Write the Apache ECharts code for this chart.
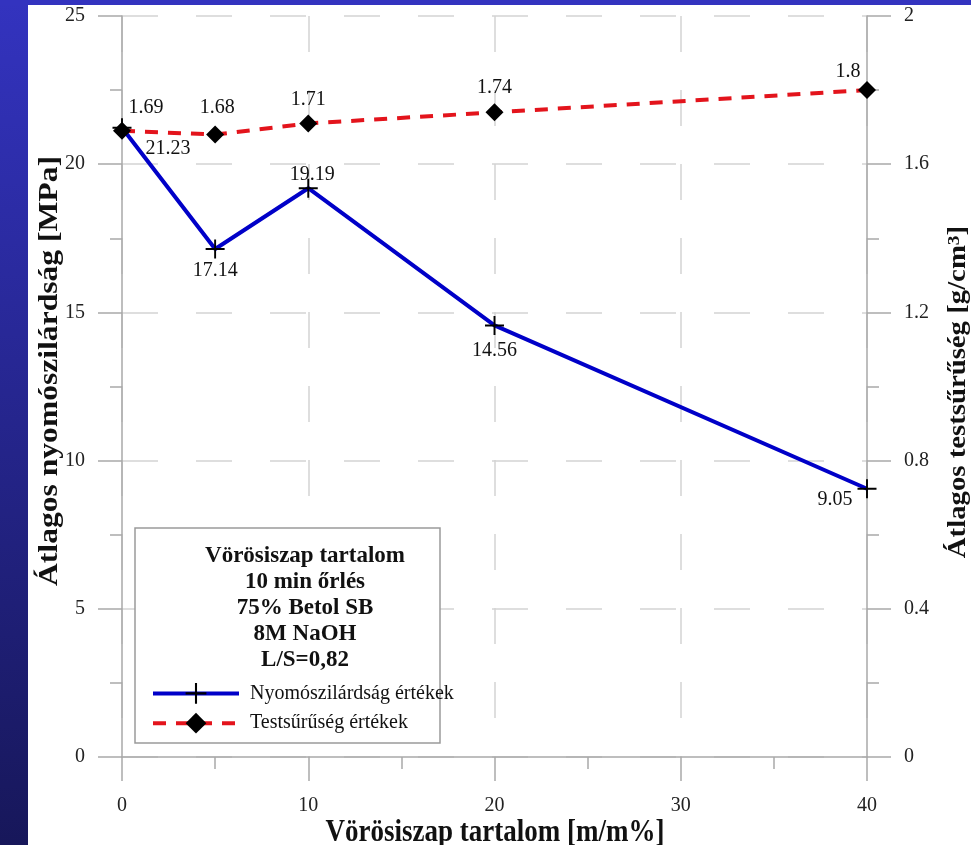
<!DOCTYPE html>
<html>
<head>
<meta charset="utf-8">
<title>Vörösiszap tartalom</title>
<script src="https://cdn.jsdelivr.net/npm/echarts@6/dist/echarts.min.js"></script>
<style>
  html, body { margin: 0; padding: 0; background: #fff; }
  #chart { width: 971px; height: 845px; }
</style>
</head>
<body>
<div id="chart"></div>
<script>
// data
const redMudContent = [0, 5, 10, 20, 40]
const strengthValues = [21.23, 17.14, 19.19, 14.56, 9.05]
const densityValues = [1.69, 1.68, 1.71, 1.74, 1.8]
const boxLines = ['Vörösiszap tartalom', '10 min őrlés', '75% Betol SB', '8M NaOH', 'L/S=0,82']
const strengthName = 'Nyomószilárdság értékek'
const densityName = 'Testsűrűség értékek'

// label nudges so the numbers sit where they do in the original
const strengthLabelOffset = [[46, 21], [0, 22], [4, -13], [0, 25], [-32, 11]]
const densityLabelOffset = [[24, -23], [2, -27], [0, -24], [0, -25], [-19, -18]]

const serif = '"Liberation Serif", "DejaVu Serif", serif'
const axisGray = '#a9a9a9'
const plusIcon = 'path://M9,0h2v9h9v2h-9v9h-2v-9h-9v-2h9z'

const chart = echarts.init(document.getElementById('chart'))

function axisCommon() {
  return {
    axisLine: { show: true, lineStyle: { color: axisGray, width: 1.5 } },
    axisTick: { show: true, length: 24, lineStyle: { color: axisGray, width: 1.5 } },
    minorTick: { show: true, splitNumber: 2, length: 12, lineStyle: { color: axisGray, width: 1.5 } },
    axisLabel: { margin: 37, color: '#222', fontSize: 20, fontFamily: serif },
    splitLine: { show: false }
  }
}

const xAxis = Object.assign(axisCommon(), {
  type: 'value', min: 0, max: 40, interval: 10,
  splitLine: { show: true, lineStyle: { color: '#d4d4d4', width: 1.5, type: [36, 38] } }
})
xAxis.axisLabel = Object.assign({}, xAxis.axisLabel, { margin: 39 })

const yLeft = Object.assign(axisCommon(), {
  type: 'value', min: 0, max: 25, interval: 5, position: 'left',
  splitLine: { show: true, lineStyle: { color: '#d4d4d4', width: 1.5, type: [36, 38] } }
})
const yRight = Object.assign(axisCommon(), {
  type: 'value', min: 0, max: 2, interval: 0.4, position: 'right'
})

chart.setOption({
  animation: false,
  backgroundColor: '#fff',
  grid: { left: 122, right: 104, top: 16, bottom: 88 },
  xAxis: xAxis,
  yAxis: [yLeft, yRight],
  legend: {
    orient: 'vertical',
    left: 146,
    top: 678,
    itemWidth: 86,
    itemHeight: 26,
    itemGap: 9,
    selectedMode: false,
    z: 10,
    lineStyle: { width: 4 },
    textStyle: { fontFamily: serif, fontSize: 20, color: '#111', padding: [0, 0, 0, 6] },
    data: [strengthName, densityName]
  },
  series: [{
    name: strengthName,
    type: 'line',
    yAxisIndex: 0,
    symbol: plusIcon,
    symbolSize: 19,
    lineStyle: { color: '#0000c8', width: 4 },
    itemStyle: { color: '#000' },
    label: {
      show: true, position: 'inside', color: '#111', fontSize: 20, fontFamily: serif,
      formatter: p => p.value[1]
    },
    z: 3,
    data: redMudContent.map((x, i) => ({
      value: [x, strengthValues[i]],
      label: { offset: strengthLabelOffset[i] }
    }))
  }, {
    name: densityName,
    type: 'line',
    yAxisIndex: 1,
    symbol: 'diamond',
    symbolSize: 18,
    lineStyle: { color: '#e3141c', width: 4, type: [13, 10] },
    itemStyle: { color: '#000' },
    label: {
      show: true, position: 'inside', color: '#111', fontSize: 20, fontFamily: serif,
      formatter: p => p.value[1]
    },
    z: 4,
    data: redMudContent.map((x, i) => ({
      value: [x, densityValues[i]],
      label: { offset: densityLabelOffset[i] }
    }))
  }],
  graphic: [
    {
      type: 'rect', z: 0,
      shape: { x: 0, y: 0, width: 28, height: 845 },
      style: {
        fill: new echarts.graphic.LinearGradient(0, 0, 0, 1, [
          { offset: 0, color: '#3333bf' },
          { offset: 1, color: '#17175a' }
        ])
      }
    },
    { type: 'rect', z: 0, shape: { x: 0, y: 0, width: 971, height: 5 }, style: { fill: '#3333bf' } },
    // info box in the lower left
    {
      type: 'rect', z: 3,
      shape: { x: 135, y: 528, width: 305, height: 215 },
      style: { fill: '#fff', stroke: '#9a9a9a', lineWidth: 1.5 }
    },
    ...boxLines.map((t, i) => ({
      type: 'text', z: 5,
      x: 305, y: 556 + i * 26,
      style: {
        text: t, fontFamily: serif, fontSize: 23, fontWeight: 'bold', fill: '#111',
        align: 'center', verticalAlign: 'middle'
      }
    })),
    // axis titles
    {
      type: 'text', z: 5, x: 495, y: 833, scaleY: 1.15,
      style: {
        text: 'Vörösiszap tartalom [m/m%]', fontFamily: serif, fontSize: 27, fontWeight: 'bold',
        fill: '#111', align: 'center', verticalAlign: 'middle'
      }
    },
    {
      type: 'text', z: 5, x: 50, y: 371, rotation: Math.PI / 2, scaleX: 1.17,
      style: {
        text: 'Átlagos nyomószilárdság [MPa]', fontFamily: serif, fontSize: 27, fontWeight: 'bold',
        fill: '#111', align: 'center', verticalAlign: 'middle'
      }
    },
    {
      type: 'text', z: 5, x: 959, y: 392, rotation: Math.PI / 2, scaleX: 1.15,
      style: {
        text: '{a|Átlagos testsűrűség [g/cm}{s|3}{a|]}',
        fill: '#111', align: 'center', verticalAlign: 'middle',
        rich: {
          a: { fontFamily: serif, fontSize: 25, fontWeight: 'bold', fill: '#111' },
          s: { fontFamily: serif, fontSize: 17, fontWeight: 'bold', fill: '#111', verticalAlign: 'top' }
        }
      }
    }
  ]
})
</script>
</body>
</html>
